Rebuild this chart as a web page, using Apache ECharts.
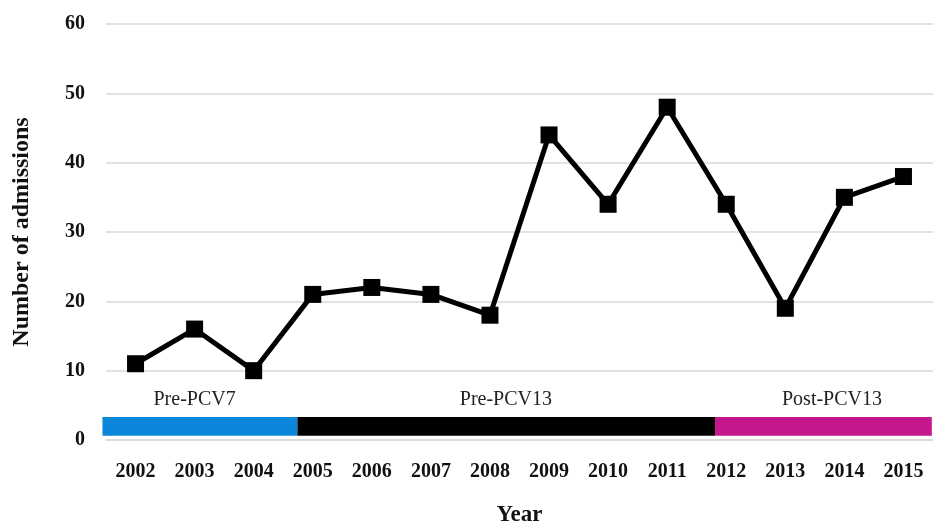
<!DOCTYPE html>
<html>
<head>
<meta charset="utf-8">
<script src="https://cdn.jsdelivr.net/npm/echarts@6/dist/echarts.min.js"></script>
<style>html,body{margin:0;padding:0;background:#fff}#c{width:933px;height:523px}</style>
</head>
<body>
<div id="c"></div>
<script>
const years = ['2002','2003','2004','2005','2006','2007','2008','2009','2010','2011','2012','2013','2014','2015'];
const admissions = [11, 16, 10, 21, 22, 21, 18, 44, 34, 48, 34, 19, 35, 38];
const yTicks = [0, 10, 20, 30, 40, 50, 60];
const periodNames = ['Pre-PCV7', 'Pre-PCV13', 'Post-PCV13'];
const periodStart = [-0.56, 2.74, 9.81];
const periodEnd = [2.74, 9.81, 13.48];
const periodLabelX = [1.0, 6.27, 11.79];
const periodColors = ['#0a86db', '#000000', '#c4178c'];
const bandBottom = 0.6, bandTop = 3.3, labelY = 5.8;

const font = '"Liberation Serif", "DejaVu Serif", serif';
const bandData = periodNames.map((n, i) => [periodStart[i], periodEnd[i], periodLabelX[i], i]);

const chart = echarts.init(document.getElementById('c'));
chart.setOption({
  animation: false,
  grid: { left: 106, right: 0, top: 24, bottom: 83, outerBoundsMode: 'none', containLabel: false },
  xAxis: [{
    type: 'category', data: years, boundaryGap: true,
    axisLine: { lineStyle: { color: '#d9d9d9', width: 1.5 } },
    axisTick: { show: false },
    axisLabel: { color: '#111', fontFamily: font, fontWeight: 'bold', fontSize: 20, margin: 22 },
    name: 'Year', nameLocation: 'middle', nameGap: 64,
    nameTextStyle: { color: '#111', fontFamily: font, fontWeight: 'bold', fontSize: 23 }
  }, {
    type: 'value', min: -0.5, max: 13.5, show: false
  }],
  yAxis: {
    type: 'value', min: 0, max: 60, interval: 10,
    axisLine: { show: false }, axisTick: { show: false },
    splitLine: { lineStyle: { color: '#d9d9d9', width: 1.5 } },
    axisLabel: { color: '#111', fontFamily: font, fontWeight: 'bold', fontSize: 20, margin: 21,
      formatter: v => yTicks.includes(v) ? String(v) : '' },
    name: 'Number of admissions', nameLocation: 'middle', nameGap: 72, nameRotate: 90,
    nameTextStyle: { color: '#111', fontFamily: font, fontWeight: 'bold', fontSize: 24 }
  },
  series: [{
    type: 'custom', xAxisIndex: 1, data: bandData, clip: false, silent: true,
    renderItem: function (params, api) {
      const s = api.coord([api.value(0), bandTop]);
      const e = api.coord([api.value(1), bandBottom]);
      const l = api.coord([api.value(2), labelY]);
      const idx = api.value(3);
      return {
        type: 'group',
        children: [{
          type: 'rect',
          shape: { x: s[0], y: s[1], width: e[0] - s[0], height: e[1] - s[1] },
          style: { fill: periodColors[idx] }
        }, {
          type: 'text',
          x: l[0], y: l[1],
          style: { text: periodNames[idx], align: 'center', verticalAlign: 'middle',
            fill: '#222', font: '20px ' + font }
        }]
      };
    }
  }, {
    type: 'line', data: admissions,
    symbol: 'rect', symbolSize: 17,
    lineStyle: { color: '#000', width: 5 },
    itemStyle: { color: '#000' }
  }]
});
</script>
</body>
</html>
